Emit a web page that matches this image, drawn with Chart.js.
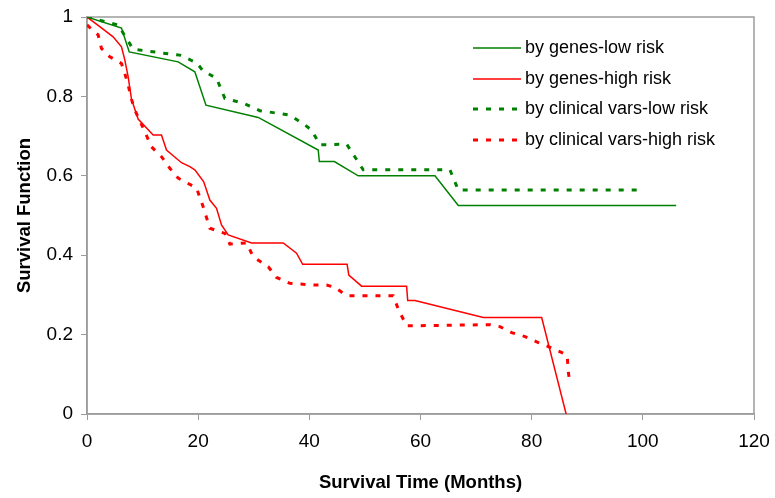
<!DOCTYPE html>
<html lang="en">
<head>
<meta charset="UTF-8" />
<title>Survival Function</title>
<script src="https://cdn.jsdelivr.net/npm/chart.js"></script>
<style>
  body { margin: 0; padding: 0; background: #fff; }
  #chart { display: block; }
</style>
</head>
<body>
<canvas id="chart" width="775" height="498"></canvas>
<script>
  // values (months, survival)
  const genesLowMonths = [0, 6.2, 7.6, 16.4, 19.4, 21.4, 30.8, 41.6, 41.8, 44.5, 48.8, 62.6, 66.8, 106];
  const genesLowSurv   = [1, 0.972, 0.912, 0.887, 0.862, 0.778, 0.747, 0.665, 0.636, 0.636, 0.600, 0.600, 0.525, 0.525];

  const genesHighMonths = [0, 2.3, 4.7, 6.2, 6.8, 7.4, 8.0, 9.2, 11.9, 13.4, 14.3, 17.0, 18.5, 19.4, 21.0, 22.1, 23.3, 24.2, 25.4, 29.6, 35.3, 37.7, 38.8, 46.8, 47.1, 49.4, 57.5, 57.7, 59.0, 71.3, 81.8, 86.2];
  const genesHighSurv   = [1, 0.976, 0.95, 0.925, 0.892, 0.85, 0.793, 0.743, 0.703, 0.703, 0.665, 0.633, 0.623, 0.615, 0.585, 0.539, 0.518, 0.476, 0.451, 0.431, 0.431, 0.405, 0.377, 0.377, 0.350, 0.322, 0.322, 0.286, 0.286, 0.243, 0.243, 0];

  const clinLowMonths = [0, 5.6, 8.3, 13.7, 16.7, 19.7, 20.9, 23.3, 24.8, 28.1, 31.1, 36.5, 39.2, 40.4, 41.9, 46.7, 49.7, 65.3, 66.8, 99.1];
  const clinLowSurv   = [1, 0.98, 0.919, 0.909, 0.904, 0.885, 0.864, 0.846, 0.795, 0.783, 0.764, 0.753, 0.728, 0.715, 0.678, 0.680, 0.615, 0.615, 0.564, 0.564];

  const clinHighMonths = [0, 2.0, 2.6, 4.1, 6.2, 6.8, 7.4, 8.0, 8.6, 10.4, 11.6, 13.4, 14.9, 16.4, 19.1, 19.7, 20.9, 22.1, 24.8, 25.7, 28.7, 29.9, 32.6, 34.1, 36.5, 40.7, 43.1, 44.6, 46.7, 55.1, 56.0, 57.5, 72.5, 74.3, 76.4, 78.8, 81.2, 83.3, 86.0, 86.4, 86.6, 86.9];
  const clinHighSurv   = [0.98, 0.955, 0.921, 0.9, 0.883, 0.858, 0.829, 0.793, 0.766, 0.711, 0.673, 0.648, 0.619, 0.594, 0.574, 0.569, 0.522, 0.468, 0.455, 0.428, 0.431, 0.396, 0.371, 0.344, 0.329, 0.325, 0.325, 0.319, 0.298, 0.298, 0.264, 0.222, 0.225, 0.22, 0.205, 0.195, 0.18, 0.168, 0.151, 0.146, 0.105, 0.075];

  const seriesLabels = ['by genes-low risk', 'by genes-high risk', 'by clinical vars-low risk', 'by clinical vars-high risk'];

  const toPoints = (xs, ys) => xs.map((x, i) => ({ x: x, y: ys[i] }));

  const FONT = '"Liberation Sans", Arial, sans-serif';
  const AXIS_GREY = '#9c9c9c';

  // legend sits inside the plot, drawn by hand like the Excel original
  const innerLegend = {
    id: 'innerLegend',
    afterDraw(chart) {
      const ctx = chart.ctx;
      const rows = [48, 79, 109, 140];
      ctx.save();
      chart.data.datasets.forEach((ds, i) => {
        const y = rows[i];
        ctx.beginPath();
        ctx.strokeStyle = ds.borderColor;
        ctx.lineWidth = ds.borderWidth;
        ctx.setLineDash(ds.borderDash || []);
        ctx.moveTo(473, y);
        ctx.lineTo(521, y);
        ctx.stroke();
        ctx.setLineDash([]);
        ctx.fillStyle = '#000';
        ctx.font = '18px ' + FONT;
        ctx.textBaseline = 'middle';
        ctx.textAlign = 'left';
        ctx.fillText(ds.label, 525, y);
      });
      ctx.restore();
    }
  };

  const plotFrame = {
    id: 'plotFrame',
    beforeDatasetsDraw(chart) {
      const a = chart.chartArea;
      const ctx = chart.ctx;
      ctx.save();
      ctx.strokeStyle = AXIS_GREY;
      ctx.lineWidth = 1.5;
      ctx.strokeRect(a.left, a.top, a.right - a.left, a.bottom - a.top);
      ctx.restore();
    }
  };

  new Chart(document.getElementById('chart'), {
    type: 'scatter',
    data: {
      datasets: [
        { label: seriesLabels[0], data: toPoints(genesLowMonths, genesLowSurv), borderColor: '#008000', borderWidth: 1.5 },
        { label: seriesLabels[1], data: toPoints(genesHighMonths, genesHighSurv), borderColor: '#ff0000', borderWidth: 1.5 },
        { label: seriesLabels[2], data: toPoints(clinLowMonths, clinLowSurv), borderColor: '#008000', borderWidth: 3, borderDash: [5, 8] },
        { label: seriesLabels[3], data: toPoints(clinHighMonths, clinHighSurv), borderColor: '#ff0000', borderWidth: 3, borderDash: [5, 8] }
      ].map(ds => Object.assign(ds, {
        showLine: true,
        fill: false,
        tension: 0,
        pointRadius: 0,
        pointHoverRadius: 0,
        backgroundColor: ds.borderColor
      }))
    },
    options: {
      responsive: false,
      animation: false,
      devicePixelRatio: 1,
      layout: { padding: { top: 17, right: 21, left: 0, bottom: 0 } },
      plugins: {
        legend: { display: false },
        tooltip: { enabled: false }
      },
      scales: {
        x: {
          type: 'linear',
          min: 0,
          max: 120,
          afterFit: s => { s.height = 84; s.paddingRight = 0; s.paddingLeft = 0; },
          border: { color: AXIS_GREY, width: 1.5 },
          grid: { drawOnChartArea: false, drawTicks: true, tickLength: 6, color: AXIS_GREY },
          ticks: { stepSize: 20, color: '#000', padding: 10, font: { family: FONT, size: 19 }, maxRotation: 0 },
          title: {
            display: true,
            text: 'Survival Time (Months)',
            color: '#000',
            font: { family: FONT, size: 18.5, weight: 'bold' },
            padding: { top: 0, bottom: 4 }
          }
        },
        y: {
          type: 'linear',
          min: 0,
          max: 1,
          afterFit: s => { s.width = 87; s.paddingTop = 0; s.paddingBottom = 0; },
          border: { color: AXIS_GREY, width: 1.5 },
          grid: { drawOnChartArea: false, drawTicks: true, tickLength: 6, color: AXIS_GREY },
          ticks: {
            stepSize: 0.2,
            color: '#000',
            padding: 8,
            font: { family: FONT, size: 19 },
            callback: v => String(Number(v.toFixed(2)))
          },
          title: {
            display: true,
            text: 'Survival Function',
            color: '#000',
            font: { family: FONT, size: 18.5, weight: 'bold' },
            padding: { top: 14, bottom: 0 }
          }
        }
      }
    },
    plugins: [plotFrame, innerLegend]
  });
</script>
</body>
</html>
